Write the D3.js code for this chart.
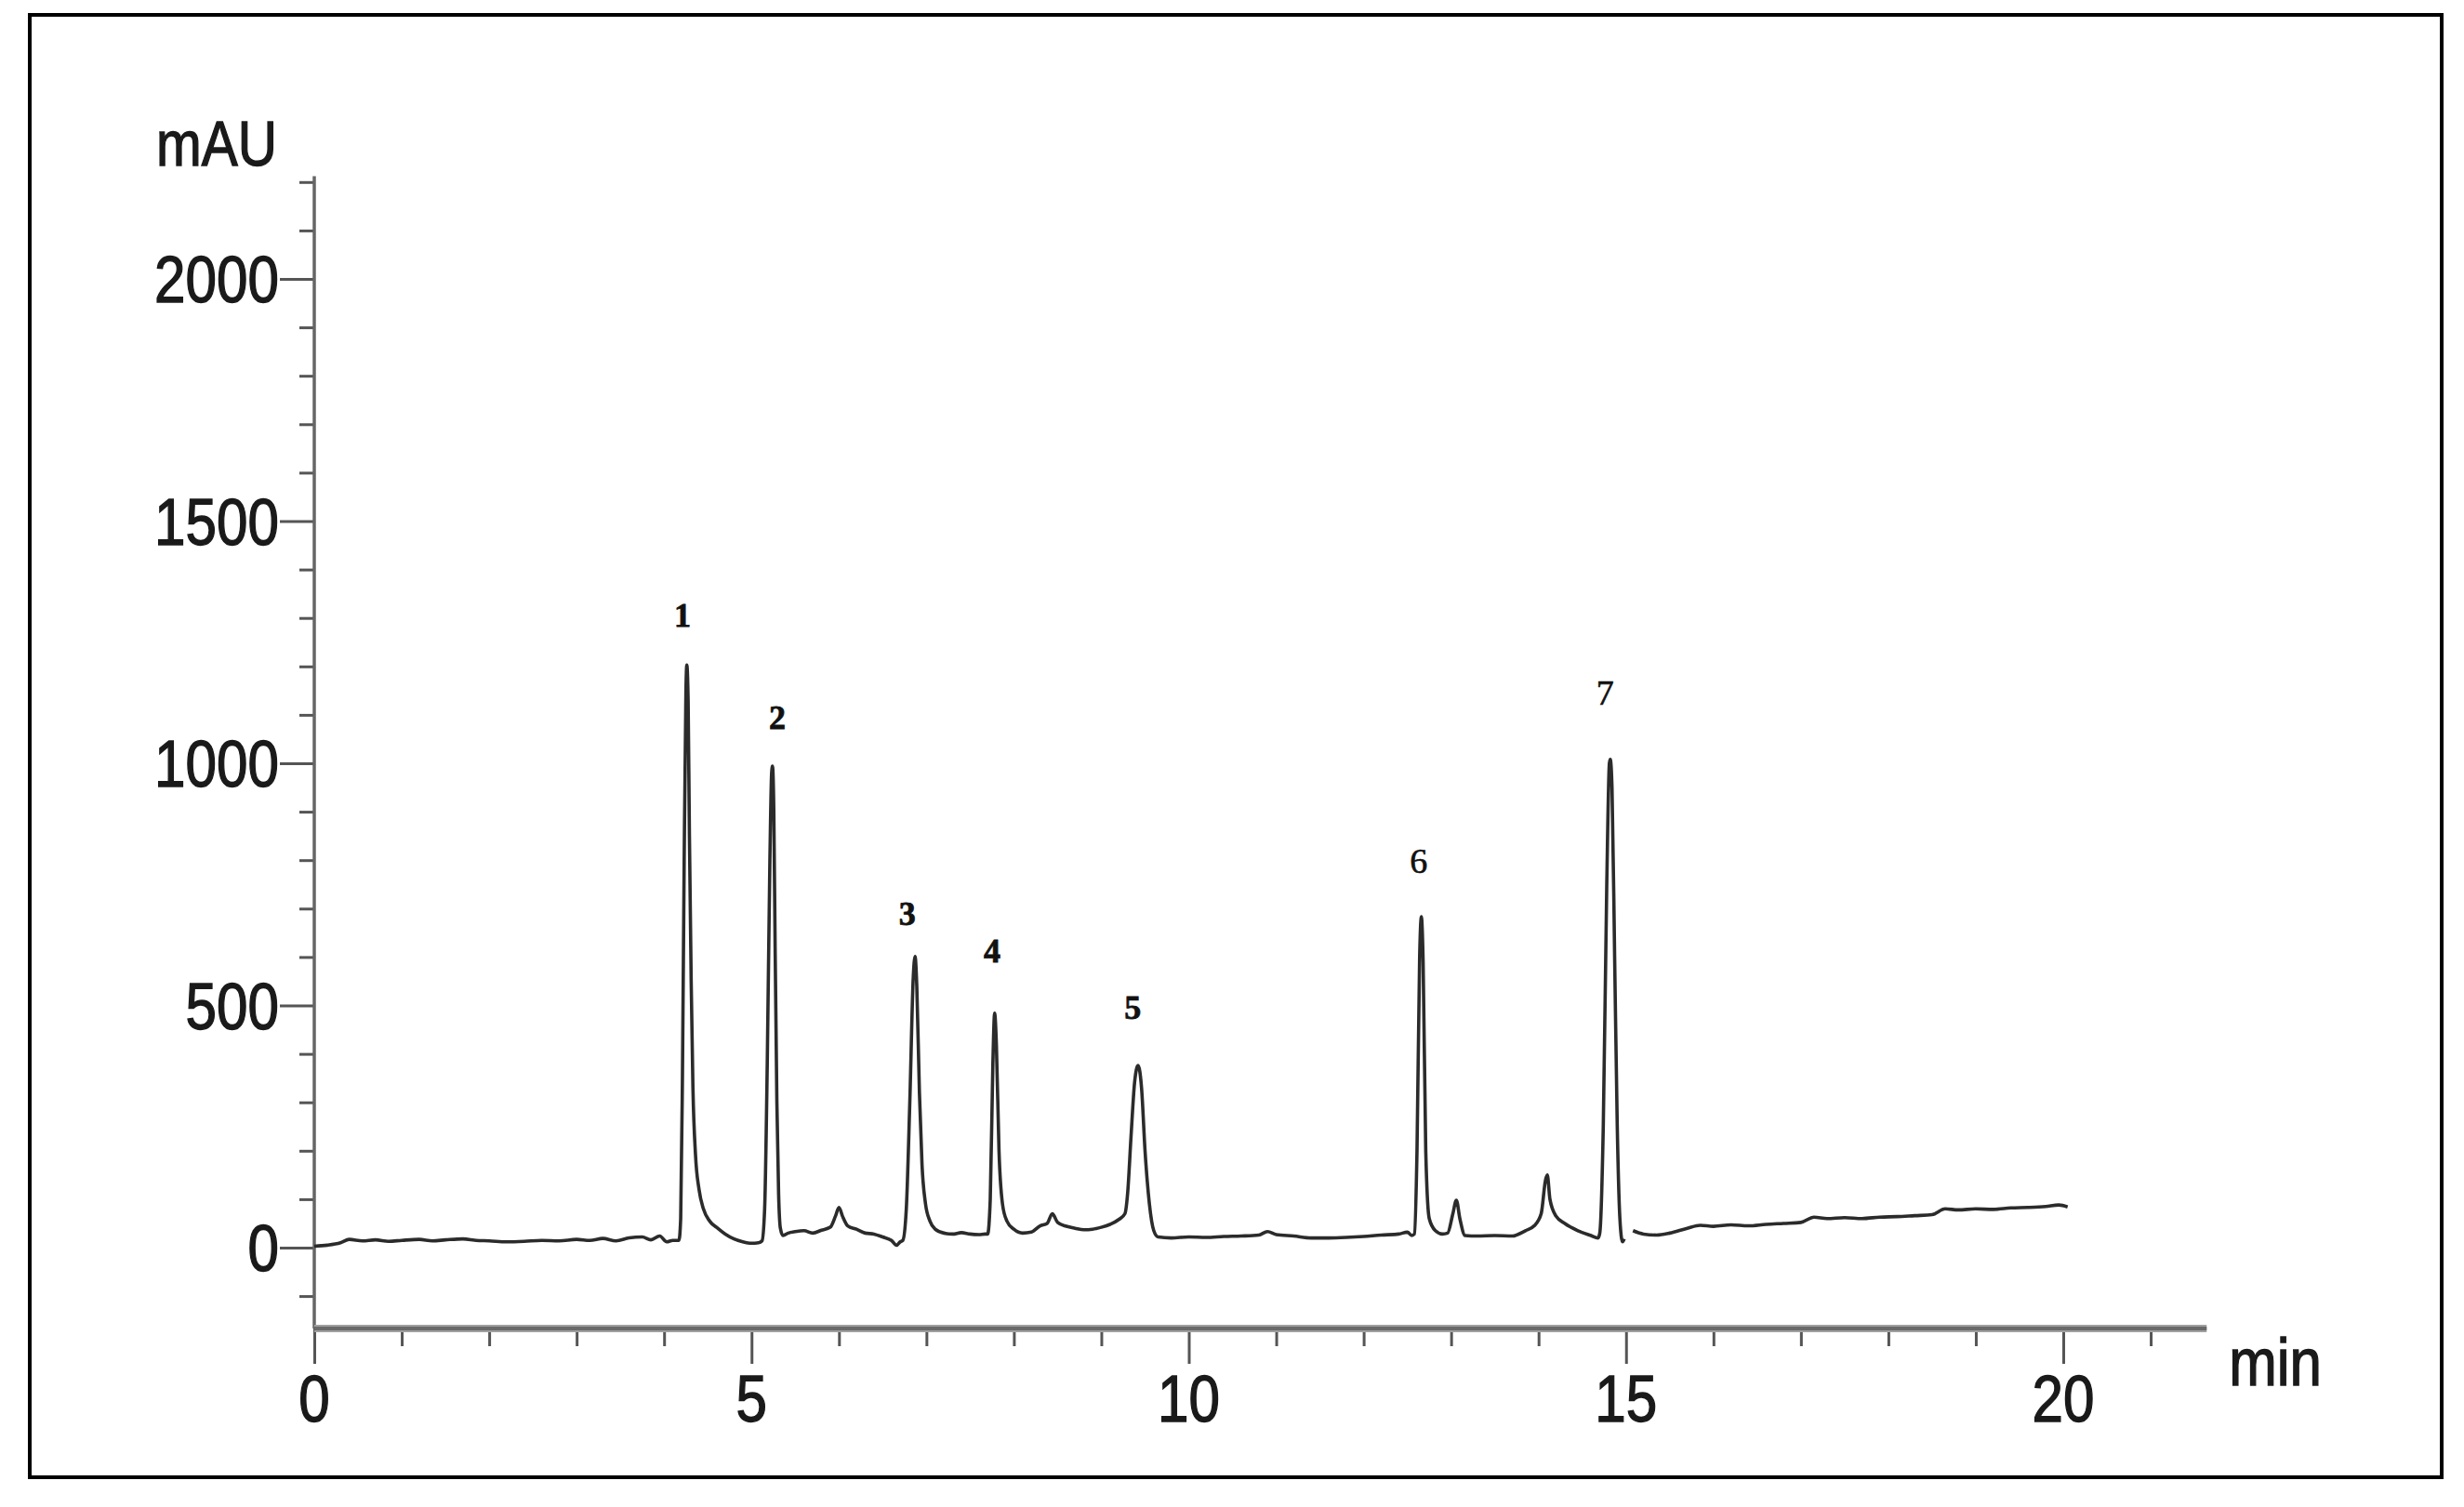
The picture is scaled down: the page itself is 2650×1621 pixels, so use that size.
<!DOCTYPE html>
<html><head><meta charset="utf-8">
<script src="https://cdn.jsdelivr.net/npm/d3@7"></script>
<style>html,body{margin:0;padding:0;background:#fff}svg{display:block}</style>
</head><body>
<svg id="chart" width="2650" height="1621"></svg>
<script>
// ---- data (time in min, signal in mAU) ----
const time = [
 0.00,0.15,0.30,0.40,0.55,0.70,0.85,1.00,1.20,1.35,1.50,1.70,1.85,2.00,2.20,2.40,2.60,2.80,3.00,3.15,3.30,3.45,3.60,3.75,3.85,3.95,4.03,4.10,
 4.17,4.19,4.21,4.23,4.25,4.26,4.275,4.29,4.31,4.33,4.36,4.40,4.45,4.52,4.60,4.70,4.80,4.90,5.00,5.08,
 5.12,5.15,5.18,5.21,5.23,5.24,5.255,5.27,5.29,5.31,5.33,5.36,5.42,5.50,5.60,5.70,5.80,5.90,5.96,6.00,6.04,6.10,6.20,6.30,6.40,6.50,6.60,6.66,6.70,
 6.73,6.77,6.81,6.85,6.87,6.89,6.92,6.95,6.99,7.04,7.10,7.20,7.30,7.40,7.50,7.60,7.67,
 7.70,7.73,7.76,7.78,7.80,7.83,7.87,7.92,8.00,8.10,8.20,8.30,8.38,8.44,8.50,8.60,8.70,8.80,8.90,9.00,9.10,9.20,9.27,
 9.30,9.34,9.38,9.42,9.46,9.50,9.55,9.60,9.65,9.80,10.00,10.20,10.40,10.60,10.80,10.90,11.00,11.20,11.40,11.60,11.80,12.00,12.20,12.40,12.50,12.55,
 12.58,12.61,12.64,12.66,12.68,12.71,12.75,12.82,12.90,12.96,13.02,13.06,13.10,13.16,13.30,13.50,13.70,13.85,13.95,14.03,14.08,14.10,14.13,14.20,14.30,14.45,14.60,14.68,
 14.70,14.74,14.78,14.81,14.82,14.84,14.87,14.90,14.93,14.96,14.98,15.02,
 15.08,15.20,15.35,15.50,15.70,15.85,16.00,16.20,16.40,16.60,16.80,17.00,17.15,17.30,17.50,17.70,17.90,18.10,18.30,18.50,18.65,18.80,19.00,19.20,19.40,19.60,19.80,19.95,20.05
];
const signal = [
 3,5,10,17,14,16,13,15,17,14,16,18,15,14,12,13,15,14,17,15,19,14,20,22,16,24,12,15,
 15,60,350,800,1150,1203,1130,850,550,330,190,120,80,55,42,28,18,12,9,10,
 14,80,380,800,980,994,900,620,300,110,40,25,30,33,35,30,36,42,65,83,65,45,38,30,28,22,15,5,12,
 15,80,300,560,601,540,320,170,90,55,38,30,28,31,28,27,28,
 28,100,380,484,420,200,90,55,38,30,32,45,50,70,52,44,40,37,38,42,48,58,70,
 110,230,340,376,330,200,90,35,22,20,22,21,23,24,26,33,27,24,20,20,21,23,26,28,32,25,
 28,200,600,683,590,200,60,35,28,30,70,98,60,25,24,25,24,35,45,70,140,150,100,65,50,35,25,20,
 30,250,750,1000,1008,950,600,250,60,12,18,null,
 35,28,26,30,40,46,44,47,45,48,50,52,63,60,62,60,63,64,66,68,80,78,80,79,82,83,85,88,84
];
const peakNames = ["1","2","3","4","5","6","7"];
const labelTime = [4.21,5.295,6.78,7.75,9.36,12.63,14.76];
const labelValue = [1282,1071,666,590,472,773,1121];
const labelBold = [true,true,true,true,true,false,false];
const xMajorTicks = [0,5,10,15,20];
const xMinorTicks = [1,2,3,4,6,7,8,9,11,12,13,14,16,17,18,19,21];
const yMajorTicks = [0,500,1000,1500,2000];
const yMinorTicks = d3.range(-100,2201,100).filter(v => v % 500 !== 0);
const xAxisMax = 21.64, yAxisTop = 2212, yAxisBottom = -167;
const xTitle = "min", yTitle = "mAU";

// ---- drawing ----
const svg = d3.select("#chart");
svg.append("rect").attr("x",0).attr("y",0).attr("width",2650).attr("height",1621).attr("fill","#fff");
svg.append("rect").attr("x",32).attr("y",16).attr("width",2594).attr("height",1573)
  .attr("fill","none").attr("stroke","#000").attr("stroke-width",4);

const x = d3.scaleLinear().domain([0,20]).range([338,2219]);
const y = d3.scaleLinear().domain([0,2000]).range([1342,300]);
const axisY = y(yAxisBottom);
const font = "'Liberation Sans', Arial, Helvetica, sans-serif";
const sx = 0.86;
const txtCol = "#1a1a1a";

// y axis
const gy = svg.append("g").attr("transform",`translate(${x(0)},0)`);
gy.call(d3.axisLeft(y).tickValues(yMinorTicks).tickSize(16).tickSizeOuter(0).tickFormat(""));
gy.call(g => g.select(".domain").remove());
const gy2 = svg.append("g").attr("transform",`translate(${x(0)},0)`);
gy2.call(d3.axisLeft(y).tickValues(yMajorTicks).tickSize(37).tickSizeOuter(0).tickFormat(""));
gy2.call(g => g.select(".domain").remove());
svg.selectAll("g .tick line").attr("stroke","#555").attr("stroke-width",3);
svg.append("line").attr("x1",x(0)).attr("x2",x(0)).attr("y1",y(yAxisTop)).attr("y2",axisY)
  .attr("stroke","#666").attr("stroke-width",3.5);

svg.append("g").selectAll("text").data(yMajorTicks).join("text")
  .attr("transform",d => `translate(${x(0)-38},${y(d)}) scale(${sx},1)`)
  .attr("text-anchor","end").attr("dy","0.36em")
  .style("font-family",font).style("font-size","70px").attr("fill",txtCol)
  .attr("stroke",txtCol).attr("stroke-width",1.4)
  .text(d => d);

svg.append("text")
  .attr("transform",`translate(${x(0)-40},${y(yAxisTop)-12}) scale(${sx},1)`)
  .attr("text-anchor","end")
  .style("font-family",font).style("font-size","68px").attr("fill",txtCol)
  .attr("stroke",txtCol).attr("stroke-width",1.4)
  .text(yTitle);

// x axis
const xa = d3.scaleLinear().domain([0,xAxisMax]).range([x(0),x(xAxisMax)]);
const gx = svg.append("g").attr("transform",`translate(0,${axisY})`);
gx.call(d3.axisBottom(x).tickValues(xMinorTicks).tickSize(19).tickSizeOuter(0).tickFormat(""));
gx.call(g => g.select(".domain").remove());
const gx2 = svg.append("g").attr("transform",`translate(0,${axisY})`);
gx2.call(d3.axisBottom(x).tickValues(xMajorTicks).tickSize(38).tickSizeOuter(0).tickFormat(""));
gx2.call(g => g.select(".domain").remove());
svg.selectAll("g .tick line").attr("stroke","#555").attr("stroke-width",3);
svg.append("line").attr("x1",xa(0)).attr("x2",xa(xAxisMax)).attr("y1",axisY).attr("y2",axisY)
  .attr("stroke","#a0a0a0").attr("stroke-width",8);
svg.append("line").attr("x1",xa(0)).attr("x2",xa(xAxisMax)).attr("y1",axisY).attr("y2",axisY)
  .attr("stroke","#6a6a6a").attr("stroke-width",4);

svg.append("g").selectAll("text").data(xMajorTicks).join("text")
  .attr("transform",d => `translate(${x(d)},${axisY+100}) scale(${sx},1)`)
  .attr("text-anchor","middle")
  .style("font-family",font).style("font-size","70px").attr("fill",txtCol)
  .attr("stroke",txtCol).attr("stroke-width",1.4)
  .text(d => d);

svg.append("text")
  .attr("transform",`translate(${xa(xAxisMax)+24},${axisY+61}) scale(${sx},1)`)
  .style("font-family",font).style("font-size","72px").attr("fill",txtCol)
  .attr("stroke",txtCol).attr("stroke-width",1.4)
  .text(xTitle);

// trace
const pts = time.map((t,i) => [t, signal[i]]);
const line = d3.line().defined(d => d[1] !== null).x(d => x(d[0])).y(d => y(d[1])).curve(d3.curveMonotoneX);
svg.append("path").datum(pts).attr("d",line)
  .attr("fill","none").attr("stroke","#2b2b2b").attr("stroke-width",3.6).attr("stroke-linejoin","round");

// peak labels
svg.append("g").selectAll("text").data(peakNames).join("text")
  .attr("x",(d,i) => x(labelTime[i])).attr("y",(d,i) => y(labelValue[i]))
  .attr("text-anchor","middle")
  .style("font-family","'Liberation Serif','Times New Roman',serif")
  .style("font-weight",(d,i) => labelBold[i] ? "bold" : "normal")
  .style("font-size",(d,i) => labelBold[i] ? "36px" : "38px")
  .attr("fill","#111").attr("stroke","#111").attr("stroke-width",(d,i) => labelBold[i] ? 0.8 : 0.6)
  .text(d => d);
</script>
</body></html>
